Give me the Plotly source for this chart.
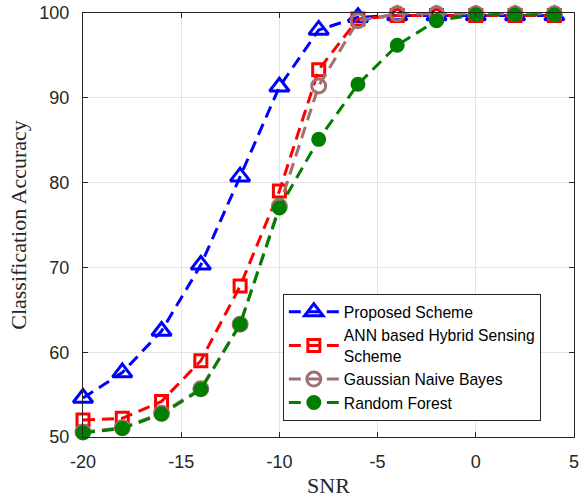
import plotly.graph_objects as go

snr = [-20, -18, -16, -14, -12, -10, -8, -6, -4, -2, 0, 2, 4]
proposed = [54.6, 57.6, 62.5, 70.3, 80.7, 91.3, 98.0, 99.5, 99.7, 99.7, 99.7, 99.7, 99.7]
ann = [52.0, 52.2, 54.2, 59.0, 67.8, 79.0, 93.3, 99.3, 99.7, 99.7, 99.7, 99.7, 99.7]
gnb = [50.6, 51.1, 52.8, 55.7, 63.3, 77.2, 91.4, 99.1, 99.9, 99.9, 99.9, 99.9, 99.9]
rf = [50.5, 51.0, 52.7, 55.6, 63.3, 77.0, 85.1, 91.6, 96.2, 99.1, 99.8, 99.8, 99.8]

x_ticks = [-20, -15, -10, -5, 0, 5]
x_ticktext = ["-20", "-15", "-10", "-5", "0", "5"]
y_ticks = [50, 60, 70, 80, 90, 100]

names = ["Proposed Scheme", "ANN based Hybrid Sensing<br>Scheme", "Gaussian Naive Bayes", "Random Forest"]
colors = ["#0000ff", "#ff0000", "#a07070", "#007f00"]
symbols = ["triangle-up-open", "square-open", "circle-open", "circle"]
sizes = [17, 12, 14, 12]
series = [proposed, ann, gnb, rf]

fig = go.Figure()
for name, y, c, s, sz in zip(names, series, colors, symbols, sizes):
    fig.add_trace(go.Scatter(
        x=snr, y=y, name=name, mode="lines+markers",
        line=dict(color=c, width=3, dash="12px,7px"),
        marker=dict(symbol=s, size=sz, color=c, line=dict(color=c, width=3)),
        cliponaxis=False,
    ))

axis_common = dict(
    showline=True, linecolor="#262626", linewidth=1, mirror="ticks",
    ticks="inside", ticklen=5, tickcolor="#262626",
    showgrid=True, gridcolor="#e3e3e3", gridwidth=1, zeroline=False,
    automargin=False, ticklabeloverflow="allow",
    tickfont=dict(family="Liberation Sans, Arial", size=18, color="#262626"),
)
title_font = dict(family="Liberation Serif, Times New Roman", size=22, color="#262626")

fig.update_layout(
    width=579, height=498,
    margin=dict(l=83, r=5, t=13, b=61),
    plot_bgcolor="white", paper_bgcolor="white",
    xaxis=dict(range=[-20, 5], tickvals=x_ticks, ticktext=x_ticktext,
               tickangle=0, ticklabelstandoff=8,
               title=dict(text="SNR", font=title_font, standoff=8),
               **axis_common),
    yaxis=dict(range=[50, 100], tickvals=y_ticks,
               ticklabelstandoff=9,
               title=dict(text="Classification Accuracy", font=title_font, standoff=6),
               **axis_common),
    legend=dict(x=0.407, y=0.337, xanchor="left", yanchor="top",
                bgcolor="white", bordercolor="#262626", borderwidth=1,
                font=dict(family="Liberation Sans, Arial", size=15.7, color="black"),
                itemwidth=50, tracegroupgap=0),
    showlegend=True,
)

fig.write_html("out.html", config={"displayModeBar": False},
               post_script="document.body.style.margin='0';document.body.style.padding='0';")
